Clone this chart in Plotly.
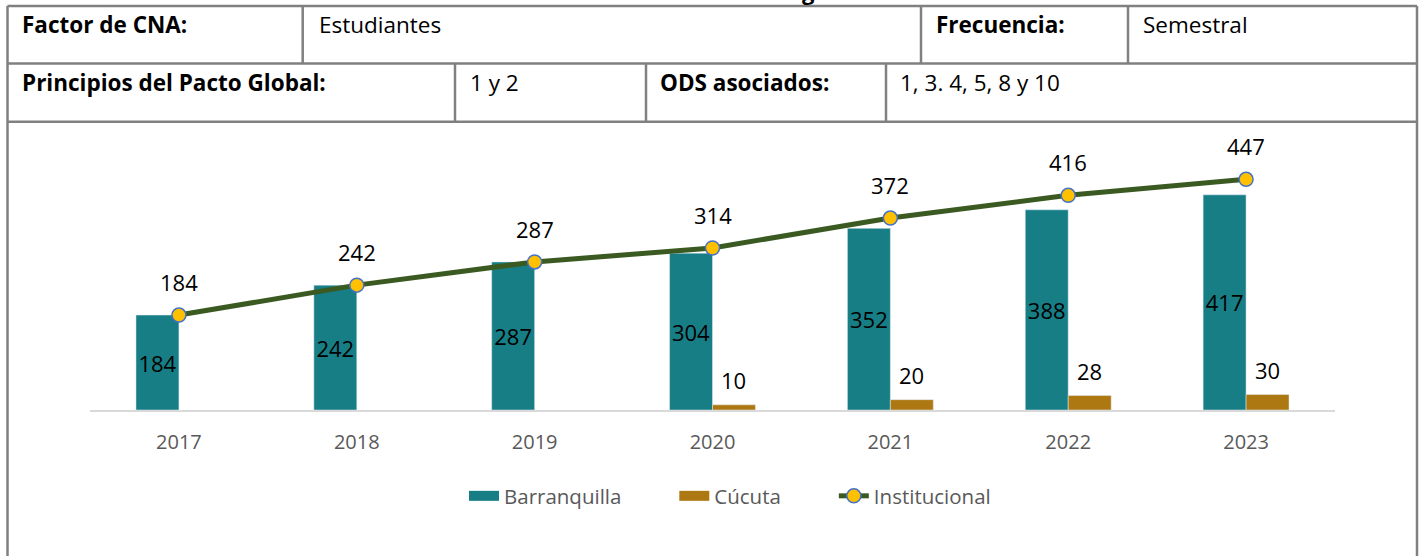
import plotly.graph_objects as go

# ---- data ----
years = ["2017", "2018", "2019", "2020", "2021", "2022", "2023"]
barranquilla = [184, 242, 287, 304, 352, 388, 417]
cucuta = [None, None, None, 10, 20, 28, 30]
institucional = [184, 242, 287, 314, 372, 416, 447]

header_row1 = [("Factor de CNA:", True, 22), ("Estudiantes", False, 319),
               ("Frecuencia:", True, 936), ("Semestral", False, 1143)]
header_row2 = [("Principios del Pacto Global:", True, 22), ("1 y 2", False, 470),
               ("ODS asociados:", True, 660), ("1, 3. 4, 5, 8 y 10", False, 900)]

xpos = list(range(len(years)))

# ---- geometry (screen pixel coords) ----
W, H = 1423, 556
SX0, SX1, SY0, SY1 = 90, 1335, 152, 410          # plot area
L, R, T, B = SX0, W - SX1, SY0, H - SY1
PW, PH = SX1 - SX0, SY1 - SY0


def px(x):
    return (x - SX0) / PW


def py(y):
    return (SY1 - y) / PH


FONT = "Open Sans"
TEAL = "#177E86"
GOLD = "#AD7811"
GREEN = "#3A5A22"
PAD = "\u00a0" * 9

fig = go.Figure()
fig.add_trace(go.Bar(
    x=xpos, y=barranquilla, name="Barranquilla", marker_color=TEAL, showlegend=False,
    text=[str(v) for v in barranquilla], textposition="inside",
    insidetextanchor="middle", textangle=0, constraintext="none",
    insidetextfont=dict(color="black", size=22, family=FONT),
))
fig.add_trace(go.Bar(
    x=xpos, y=cucuta, name="Cúcuta", marker_color=GOLD, showlegend=False,
))
# legend proxies (wide colour swatches like the reference)
fig.add_trace(go.Scatter(x=[None], y=[None], mode="lines", name="Barranquilla" + PAD,
                         line=dict(color=TEAL, width=15)))
fig.add_trace(go.Scatter(x=[None], y=[None], mode="lines", name="Cúcuta" + PAD,
                         line=dict(color=GOLD, width=15)))
fig.add_trace(go.Scatter(
    x=xpos, y=institucional, name="Institucional", mode="lines+markers",
    line=dict(color=GREEN, width=5),
    marker=dict(size=14, color="#FFC000", line=dict(color="#4472C4", width=1.5)),
))

annotations = []
for xi, v in zip(xpos, institucional):
    annotations.append(dict(x=xi, y=v, xref="x", yref="y", text=str(v),
                            showarrow=False, yshift=33, yanchor="middle",
                            font=dict(size=22, color="black", family=FONT)))
for xi, v in zip(xpos, cucuta):
    if v is None:
        continue
    annotations.append(dict(x=xi, y=v, xref="x", yref="y", text=str(v),
                            showarrow=False, yshift=25, xshift=21, yanchor="middle",
                            font=dict(size=22, color="black", family=FONT)))

for txt, bold, x0 in header_row1:
    annotations.append(dict(x=px(x0 - 2), y=py(24.5), xref="paper", yref="paper",
                            text=f"<b>{txt}</b>" if bold else txt, showarrow=False,
                            xanchor="left", yanchor="middle",
                            font=dict(size=22.5, color="black", family=FONT)))
for txt, bold, x0 in header_row2:
    annotations.append(dict(x=px(x0 - 2), y=py(82.5), xref="paper", yref="paper",
                            text=f"<b>{txt}</b>" if bold else txt, showarrow=False,
                            xanchor="left", yanchor="middle",
                            font=dict(size=22.5, color="black", family=FONT)))
annotations.append(dict(x=px(808), y=py(-9), xref="paper", yref="paper",
                        text="<b>g</b>", showarrow=False, xanchor="center", yanchor="middle",
                        font=dict(size=22, color="black", family=FONT)))

shapes = []
BC = "#808080"
BW = 2.5


def hline(y, x0, x1):
    shapes.append(dict(type="line", xref="paper", yref="paper", x0=px(x0), x1=px(x1),
                       y0=py(y), y1=py(y), line=dict(color=BC, width=BW)))


def vline(x, y0, y1):
    shapes.append(dict(type="line", xref="paper", yref="paper", x0=px(x), x1=px(x),
                       y0=py(y0), y1=py(y1), line=dict(color=BC, width=BW)))


for yy in (6, 63.5, 121.7):
    hline(yy, 7.5, 1417)
vline(7.5, 6, 570)
vline(1417, 6, 570)
for xx in (302.7, 921, 1128):
    vline(xx, 6, 63.5)
for xx in (455, 646, 886):
    vline(xx, 63.5, 121.7)

fig.update_layout(
    width=W, height=H,
    margin=dict(l=L, r=R, t=T, b=B, autoexpand=False),
    paper_bgcolor="white", plot_bgcolor="white",
    barmode="group", bargap=0.517, bargroupgap=0,
    font=dict(family=FONT, color="#595959"),
    showlegend=True,
    legend=dict(orientation="h", x=px(464), xanchor="left", y=py(496), yanchor="middle",
                font=dict(size=20.5, color="#595959", family=FONT),
                traceorder="normal", bgcolor="rgba(0,0,0,0)"),
    xaxis=dict(range=[-0.5, len(years) - 0.5], tickvals=xpos, ticktext=years,
               showline=True, linecolor="#D9D9D9", linewidth=1.5,
               showgrid=False, ticks="", tickfont=dict(size=20, color="#595959", family=FONT),
               ticklabelstandoff=13, zeroline=False),
    yaxis=dict(range=[0, 500], visible=False, showgrid=False, zeroline=False),
    annotations=annotations,
    shapes=shapes,
)

fig.write_html("out.html", config={"displayModeBar": False},
               post_script="document.body.style.margin='0';document.body.style.overflow='hidden';")
